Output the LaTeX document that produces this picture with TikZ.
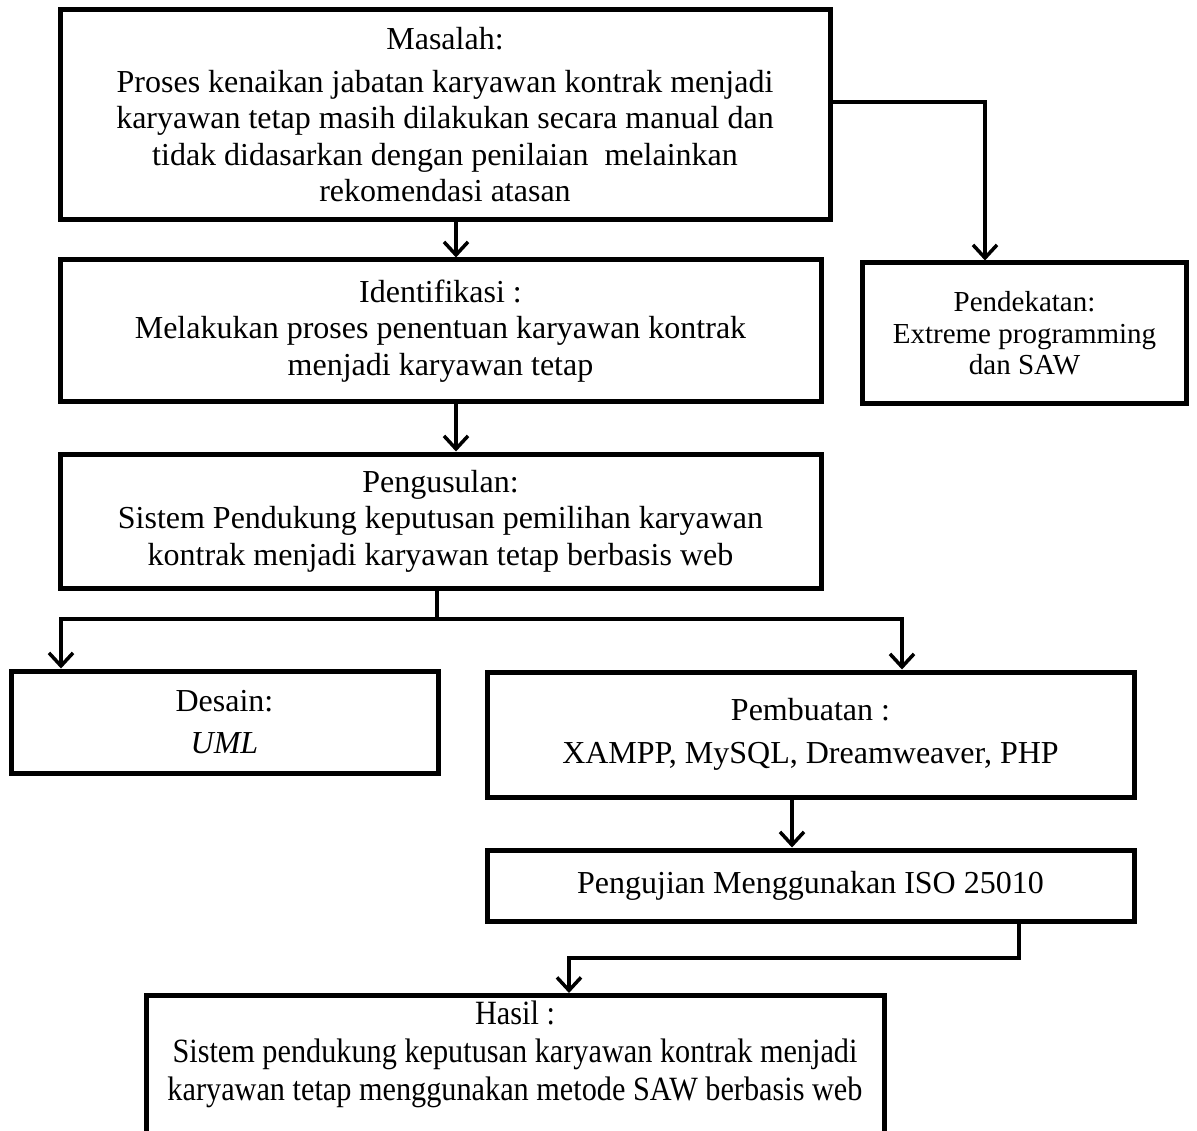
\documentclass[tikz,border=0pt]{standalone}
\usepackage{fontspec}
\setmainfont{Liberation Serif}
\newfontfamily\narrowserif[FakeStretch=0.89]{Liberation Serif}
\usetikzlibrary{arrows.meta}
\begin{document}
\begin{tikzpicture}[x=1pt,y=-1pt,
  box/.style={draw,line width=5pt,align=center,inner sep=0pt,
    font=\fontsize{32}{36.5}\selectfont},
  link/.style={line width=3.5pt},
  arr/.style={link,-{Straight Barb[length=13pt,width=24pt]}}
]
\useasboundingbox (0,0) rectangle (1197,1131);
\clip (0,0) rectangle (1197,1131);

% boxes
\node (masalah) [box,minimum width=770pt,minimum height=210pt] at (445,115)
  {Masalah:\\[6pt]
   Proses kenaikan jabatan karyawan kontrak menjadi\\
   karyawan tetap masih dilakukan secara manual dan\\
   tidak didasarkan dengan penilaian~ melainkan\\
   rekomendasi atasan};

\node (pendekatan) [box,minimum width=324pt,minimum height=141pt,
  font=\fontsize{29}{31.5}\selectfont] at (1024.5,333.5)
  {Pendekatan:\\ Extreme programming\\ dan SAW};

\node (identifikasi) [box,minimum width=761pt,minimum height=142pt] at (440.5,331)
  {Identifikasi :\\
   Melakukan proses penentuan karyawan kontrak\\
   menjadi karyawan tetap};

\node (pengusulan) [box,minimum width=761pt,minimum height=134pt] at (440.5,521)
  {Pengusulan:\\
   Sistem Pendukung keputusan pemilihan karyawan\\
   kontrak menjadi karyawan tetap berbasis web};

\node (desain) [box,minimum width=427pt,minimum height=102pt] at (224.5,722)
  {Desain:\\[5pt] \textit{UML}};

\node (pembuatan) [box,minimum width=647pt,minimum height=125pt] at (810.5,734.5)
  {Pembuatan :\\[6pt] XAMPP, MySQL, Dreamweaver, PHP};

\node (pengujian) [box,minimum width=647pt,minimum height=71pt] at (810.5,885.5)
  {Pengujian Menggunakan ISO 25010};

\node (hasil) [box,anchor=north,minimum width=738pt,inner ysep=5pt] at (515,993)
  {\parbox[t][170pt][t]{720pt}{\centering\narrowserif\fontsize{34}{38}\selectfont
   Hasil :\\
   Sistem pendukung keputusan karyawan kontrak menjadi\\
   karyawan tetap menggunakan metode SAW berbasis web}};

% connector bend points
\coordinate (colA) at (456,0);
\coordinate (bendP) at (985,102);
\coordinate (split) at (437,619);
\coordinate (colD) at (61,0);
\coordinate (colM) at (902,0);
\coordinate (colT) at (792,0);
\coordinate (bendH) at (1019,958);
\coordinate (colH) at (569,0);

% connectors
\draw[arr] (masalah.south -| colA) -- (identifikasi.north -| colA);
\draw[arr] (masalah.east |- bendP) -- (bendP) -- (pendekatan.north -| bendP);
\draw[arr] (identifikasi.south -| colA) -- (pengusulan.north -| colA);
\draw[link] (pengusulan.south -| split) -- (split);
\draw[arr] (split) -| (desain.north -| colD);
\draw[arr] (split) -| (pembuatan.north -| colM);
\draw[arr] (pembuatan.south -| colT) -- (pengujian.north -| colT);
\draw[arr] (pengujian.south -| bendH) -- (bendH) -| (hasil.north -| colH);
\end{tikzpicture}
\end{document}
